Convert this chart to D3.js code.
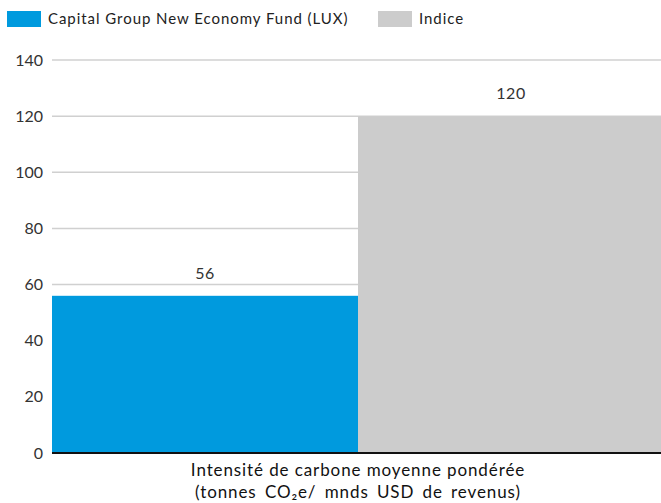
<!DOCTYPE html>
<html>
<head>
<meta charset="utf-8">
<script src="https://cdn.jsdelivr.net/npm/d3@7"></script>
<style>
  body { margin: 0; background: #fff; }
  svg { display: block; font-family: Lato, "Open Sans", sans-serif; }
</style>
</head>
<body>
<script>
const categories = ["Capital Group New Economy Fund (LUX)", "Indice"];
const values = [56, 120];
const colors = ["#009ade", "#cccccc"];
const yTicks = [0, 20, 40, 60, 80, 100, 120, 140];
const xLabel = ["Intensité de carbone moyenne pondérée", "(tonnes CO₂e/ mnds USD de revenus)"];

const width = 661;
const height = 503;
const margin = { top: 60, right: -3, bottom: 50, left: 52 };

const svg = d3
  .select("body")
  .append("svg")
  .attr("width", width)
  .attr("height", height);

const xScale = d3
  .scaleBand()
  .domain(categories)
  .range([margin.left, width - margin.right])
  .padding(0);

const yScale = d3
  .scaleLinear()
  .domain([0, 140])
  .range([height - margin.bottom, margin.top]);

// grid lines
svg
  .append("g")
  .selectAll("line")
  .data(yTicks.filter((d) => d > 0))
  .enter()
  .append("line")
  .attr("x1", margin.left)
  .attr("x2", width)
  .attr("y1", (d) => yScale(d))
  .attr("y2", (d) => yScale(d))
  .attr("stroke", "#d0d0d0")
  .attr("stroke-width", 1.5);

// y axis labels
const yAxis = d3.axisLeft(yScale).tickValues(yTicks).tickSize(0).tickPadding(9);
svg
  .append("g")
  .attr("transform", `translate(${margin.left}, 0)`)
  .call(yAxis)
  .call((g) => g.select(".domain").remove())
  .selectAll("text")
  .style("font-family", "Lato, sans-serif")
  .style("font-size", "16px")
  .attr("fill", "#333");

// bars
svg
  .selectAll("rect.bar")
  .data(categories)
  .enter()
  .append("rect")
  .attr("class", "bar")
  .attr("x", (d) => xScale(d))
  .attr("y", (d, i) => yScale(values[i]))
  .attr("width", xScale.bandwidth())
  .attr("height", (d, i) => yScale(0) - yScale(values[i]))
  .attr("fill", (d, i) => colors[i]);

// value labels
svg
  .selectAll("text.val")
  .data(categories)
  .enter()
  .append("text")
  .attr("class", "val")
  .attr("x", (d) => xScale(d) + xScale.bandwidth() / 2)
  .attr("y", (d, i) => yScale(values[i]) - 17)
  .attr("text-anchor", "middle")
  .style("font-size", "16px")
  .style("letter-spacing", "0.5px")
  .attr("fill", "#333")
  .text((d, i) => values[i]);

// baseline
svg
  .append("line")
  .attr("x1", margin.left)
  .attr("x2", width)
  .attr("y1", yScale(0))
  .attr("y2", yScale(0))
  .attr("stroke", "#111")
  .attr("stroke-width", 2);

// x label
const xMid = xScale(categories[1]);
svg
  .append("text")
  .attr("x", xMid)
  .attr("y", 476)
  .attr("text-anchor", "middle")
  .style("font-size", "17px")
  .style("letter-spacing", "0.9px")
  .attr("fill", "#111")
  .selectAll("tspan")
  .data(xLabel)
  .enter()
  .append("tspan")
  .attr("x", xMid)
  .attr("dy", (d, i) => (i === 0 ? 0 : 22))
  .style("word-spacing", (d, i) => (i === 0 ? "0px" : "3px"))
  .text((d) => d);

// legend
const legendX = [7, 378];
const legend = svg
  .selectAll("g.legend")
  .data(categories)
  .enter()
  .append("g")
  .attr("class", "legend")
  .attr("transform", (d, i) => `translate(${legendX[i]}, 11)`);

legend
  .append("rect")
  .attr("width", 34)
  .attr("height", 16)
  .attr("fill", (d, i) => colors[i]);

legend
  .append("text")
  .attr("x", 41)
  .attr("y", 13)
  .style("font-size", "15px")
  .style("letter-spacing", "0.95px")
  .attr("fill", "#222")
  .text((d) => d);
</script>
</body>
</html>
